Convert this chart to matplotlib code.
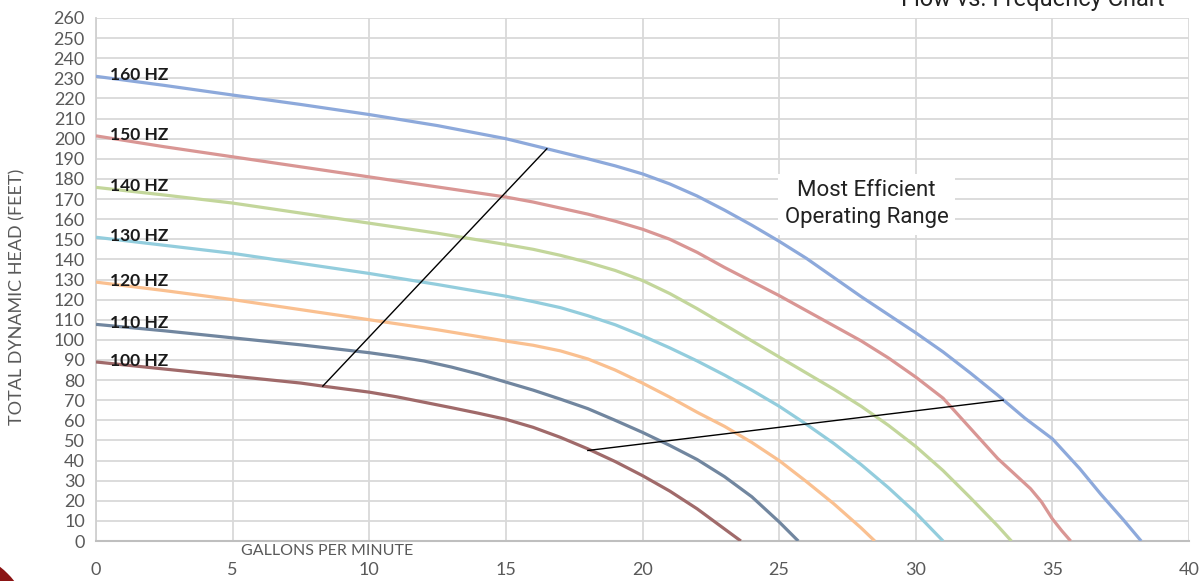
import matplotlib
matplotlib.use("Agg")
import matplotlib.pyplot as plt
from matplotlib.patches import Ellipse

# flow (gpm) vs total dynamic head (ft)
gpm_160 = [0, 2.5, 5, 7.5, 10, 12.5, 15, 16.5, 18, 19, 20, 21, 22, 23, 24, 25, 26, 27, 28, 29, 30, 31, 32, 33, 34, 35, 36, 36.77, 37.6, 38.25]
head_160 = [231, 226.5, 221.7, 217, 212, 206.5, 200, 195, 190, 186.5, 182.5, 177.5, 171.5, 164.5, 157, 149, 140.5, 131, 121.5, 112.5, 103.5, 94, 83.5, 72.5, 61, 50.8, 36, 23.3, 10.5, 0]

gpm_150 = [0, 2.5, 5, 7.5, 10, 12.5, 15, 16, 17, 18, 19, 20, 21, 22, 23, 24, 25, 26, 27, 28, 29, 30, 31, 32, 33, 33.6, 34.2, 34.6, 35, 35.35, 35.67]
head_150 = [201.4, 196, 191, 186, 181, 176, 171, 168.5, 165.5, 162.5, 159, 155, 150, 143.5, 136, 129, 122, 114.5, 107, 99.5, 91, 81.5, 71, 56, 41, 33.5, 26, 19.5, 11, 5, 0]

gpm_140 = [0, 2.5, 5, 7.5, 10, 12.5, 15, 16, 17, 18, 19, 20, 21, 22, 23, 24, 25, 26, 27, 28, 29, 30, 31, 32, 33, 33.5]
head_140 = [175.8, 172, 168, 163, 158, 153, 147.4, 145, 142, 138.5, 134.5, 129.5, 123, 115.5, 107.5, 99.5, 91.5, 83.5, 75.5, 67, 57.5, 47, 35, 21.5, 7.5, 0]

gpm_130 = [0, 2.5, 5, 7.5, 10, 12.5, 15, 16, 17, 18, 19, 20, 21, 22, 23, 24, 25, 26, 27, 28, 29, 30, 31.0]
head_130 = [151, 147, 143, 138, 133, 127.5, 121.7, 119, 116, 112, 107.5, 102, 96, 89.5, 82.5, 75, 67, 58, 48.5, 38, 26.5, 14, 0]

gpm_120 = [0, 2.5, 5, 7.5, 10, 12.5, 15, 16, 17, 18, 19, 20, 21, 22, 23, 24, 25, 26, 27, 28, 28.5]
head_120 = [128.7, 124.5, 120, 115, 110, 105, 99.4, 97.3, 94.5, 90.5, 85, 78.5, 71.5, 64, 57, 49, 40, 29.5, 18.5, 6.5, 0]

gpm_110 = [0, 2.5, 5, 7.5, 10, 11, 12, 13, 14, 15, 16, 17, 18, 19, 20, 21, 22, 23, 24, 25, 25.7]
head_110 = [107.7, 104.5, 101, 97.5, 93.6, 91.7, 89.5, 86.5, 83, 79, 75, 70.5, 65.8, 60, 54, 47.5, 40.5, 32, 22, 9.5, 0]

gpm_100 = [0, 2.5, 5, 7.5, 8.3, 10, 11, 12, 13, 14, 15, 16, 17, 18, 19, 20, 21, 22, 23, 23.6]
head_100 = [89, 85.5, 82, 78.5, 77, 74, 71.7, 69, 66.3, 63.5, 60.5, 56.5, 51.5, 45.8, 39.5, 32.5, 24.8, 16, 6, 0]

hz_labels = ["160 HZ", "150 HZ", "140 HZ", "130 HZ", "120 HZ", "110 HZ", "100 HZ"]
curve_colors = ["#8DA9DB", "#D99694", "#C3D69B", "#93CDDD", "#FAC090", "#71869F", "#A06A6A"]

# boundaries of the efficient range
range_low_x = [8.3, 16.5]
range_low_y = [77, 195]
range_high_x = [18, 33.2]
range_high_y = [45, 70]

x_ticks = list(range(0, 41, 5))
y_ticks = list(range(0, 261, 10))

GREY = "#595959"

fig = plt.figure(figsize=(12.03, 5.81), dpi=100)
ax = fig.add_axes([96 / 1203, 1 - 541 / 581, (1189 - 96) / 1203, (541 - 18) / 581])

curves = [(gpm_160, head_160), (gpm_150, head_150), (gpm_140, head_140), (gpm_130, head_130),
          (gpm_120, head_120), (gpm_110, head_110), (gpm_100, head_100)]
for (xs, ys), lab, col in zip(curves, hz_labels, curve_colors):
    ax.plot(xs, ys, color=col, lw=2.3, solid_capstyle="butt", solid_joinstyle="round", zorder=3)
    ax.text(0.5, ys[0] + 0.5, lab, fontsize=12.5, fontweight="bold", family=["Lato", "DejaVu Sans"],
            color="#1a1a1a", va="center", ha="left", zorder=5)

ax.plot(range_low_x, range_low_y, color="black", lw=1.0, zorder=4)
ax.plot(range_high_x, range_high_y, color="black", lw=1.0, zorder=4)

ax.text(28.2, 167.5, "Most Efficient\nOperating Range", fontsize=16, family=["Roboto", "DejaVu Sans"],
        color="#222222", ha="center", va="center", linespacing=1.35, zorder=6,
        bbox=dict(boxstyle="square,pad=0.3", fc="white", ec="none"))

ax.set_xlim(0, 40)
ax.set_ylim(0, 260)
ax.set_xticks(x_ticks)
ax.set_yticks(y_ticks)
ax.tick_params(axis="both", length=0, labelsize=13, labelcolor=GREY)
ax.tick_params(axis="x", pad=15)
ax.tick_params(axis="y", pad=8)
for lbl in ax.get_xticklabels() + ax.get_yticklabels():
    lbl.set_family(["Lato", "DejaVu Sans"])

ax.set_axisbelow(True)
ax.grid(True, color="#D9D9D9", lw=1.3)
for side in ["top", "right"]:
    ax.spines[side].set_visible(False)
ax.spines["left"].set_color("#D0D0D0")
ax.spines["bottom"].set_color("#BFBFBF")
ax.spines["left"].set_linewidth(1.3)
ax.spines["bottom"].set_linewidth(1.5)

fig.text(327 / 1203, 1 - 551 / 581, "GALLONS PER MINUTE", fontsize=11.5, color=GREY,
         family=["Liberation Sans Narrow", "Lato", "DejaVu Sans"], ha="center", va="center")
fig.text(17 / 1203, 1 - 297 / 581, "TOTAL DYNAMIC HEAD (FEET)", fontsize=13, color=GREY,
         family=["Lato", "DejaVu Sans"], rotation=90, ha="center", va="center")

# heading sits mostly above the top edge, as in the reference
fig.text(1165 / 1203, 1 - 6 / 581, "Flow vs. Frequency Chart", fontsize=17, color="#222222",
         family=["Roboto", "DejaVu Sans"], ha="right", va="baseline")

# corner decoration
fig.add_artist(Ellipse((-60 / 1203, -60 / 581), 2 * 95.5 / 1203, 2 * 95.5 / 581,
                       transform=fig.transFigure, fc="#8B1414", ec="none"))

fig.savefig("out.png", dpi=100)
